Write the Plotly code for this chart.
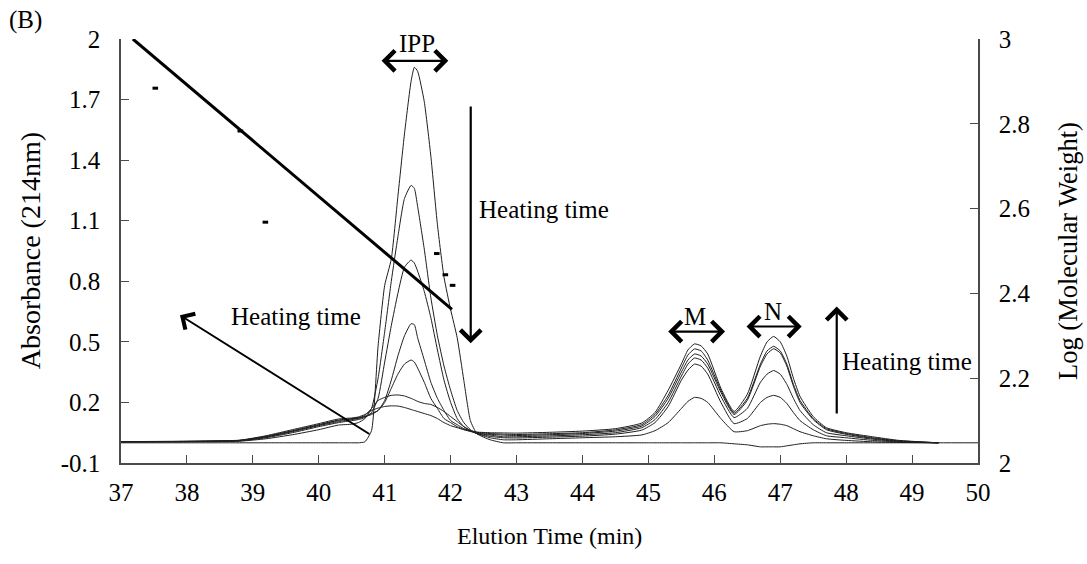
import plotly.graph_objects as go

# ---------------- data ----------------
elution_time = [37.0, 38.0, 38.8, 39.2, 39.6, 40.0, 40.3, 40.5, 40.6, 40.7,
                40.8, 40.9, 41.0, 41.1, 41.2, 41.3, 41.4, 41.45, 41.5, 41.6,
                41.7, 41.8, 41.9, 42.0, 42.1, 42.2, 42.3, 42.4, 42.6, 42.8,
                43.0, 43.5, 44.0, 44.5, 44.9, 45.1, 45.3, 45.5, 45.6, 45.7,
                45.8, 45.9, 46.1, 46.3, 46.5, 46.7, 46.8, 46.9, 47.0, 47.1,
                47.2, 47.3, 47.5, 47.7, 48.0, 48.4, 48.8, 49.4, 50.0]

abs_t0 = [0.0, 0.0, 0.0, 0.0, 0.0, 0.0, 0.0, 0.0, 0.0, 0.005,
          0.06, 0.48, 0.78, 0.91, 1.22, 1.53, 1.79, 1.86, 1.84, 1.69,
          1.42, 1.08, 0.82, 0.66, 0.52, 0.31, 0.11, 0.045, 0.015, 0.0,
          0.0, 0.0, 0.0, 0.0, 0.0, 0.0, 0.0, 0.0, 0.0, 0.0,
          0.0, 0.0, 0.0, -0.005, -0.01, -0.02, -0.02, -0.02, -0.02, -0.015,
          -0.01, -0.005, 0.0, 0.0, 0.0, 0.0, 0.0, 0.0, 0.0]

abs_t1 = [0.005, 0.005, 0.008, 0.02, 0.04, 0.065, 0.088, 0.092, 0.10, 0.12,
          0.17, 0.32, 0.55, 0.80, 1.02, 1.21, 1.275, 1.26, 1.17, 0.96,
          0.72, 0.53, 0.38, 0.26, 0.16, 0.10, 0.065, 0.045, 0.025, 0.015,
          0.015, 0.02, 0.025, 0.03, 0.039, 0.06, 0.10, 0.17, 0.205, 0.225,
          0.22, 0.20, 0.12, 0.055, 0.06, 0.085, 0.092, 0.095, 0.092, 0.085,
          0.07, 0.055, 0.035, 0.02, 0.012, 0.005, 0.002, 0.0, None]

abs_t2 = [0.005, 0.006, 0.01, 0.025, 0.05, 0.08, 0.10, 0.11, 0.115, 0.125,
          0.15, 0.22, 0.40, 0.58, 0.74, 0.87, 0.905, 0.89, 0.85, 0.75,
          0.62, 0.46, 0.31, 0.20, 0.12, 0.08, 0.06, 0.045, 0.032, 0.025,
          0.024, 0.028, 0.033, 0.043, 0.063, 0.10, 0.18, 0.31, 0.36, 0.39,
          0.38, 0.34, 0.20, 0.095, 0.12, 0.20, 0.225, 0.235, 0.225, 0.195,
          0.15, 0.11, 0.065, 0.035, 0.025, 0.012, 0.004, 0.0, None]

abs_t3 = [0.005, 0.006, 0.01, 0.028, 0.055, 0.085, 0.105, 0.115, 0.12, 0.13,
          0.145, 0.16, 0.21, 0.31, 0.43, 0.53, 0.59, 0.585, 0.52, 0.41,
          0.30, 0.22, 0.16, 0.11, 0.09, 0.07, 0.06, 0.047, 0.038, 0.03,
          0.03, 0.034, 0.04, 0.05, 0.075, 0.115, 0.20, 0.33, 0.39, 0.42,
          0.41, 0.37, 0.23, 0.125, 0.17, 0.30, 0.34, 0.358, 0.34, 0.29,
          0.22, 0.16, 0.09, 0.05, 0.035, 0.018, 0.006, 0.0, None]

abs_t4 = [0.005, 0.007, 0.012, 0.03, 0.058, 0.088, 0.11, 0.118, 0.122, 0.13,
          0.14, 0.16, 0.20, 0.27, 0.34, 0.39, 0.41, 0.40, 0.37, 0.30,
          0.22, 0.17, 0.12, 0.10, 0.08, 0.066, 0.056, 0.048, 0.042, 0.038,
          0.036, 0.04, 0.046, 0.058, 0.083, 0.13, 0.22, 0.35, 0.41, 0.44,
          0.43, 0.39, 0.25, 0.14, 0.21, 0.38, 0.44, 0.466, 0.445, 0.38,
          0.28, 0.20, 0.115, 0.065, 0.042, 0.022, 0.008, 0.0, None]

abs_t5 = [0.006, 0.007, 0.012, 0.032, 0.06, 0.09, 0.113, 0.12, 0.125, 0.135,
          0.17, 0.21, 0.225, 0.235, 0.237, 0.232, 0.22, 0.213, 0.205, 0.195,
          0.19, 0.175, 0.155, 0.13, 0.105, 0.08, 0.062, 0.052, 0.046, 0.043,
          0.041, 0.045, 0.05, 0.064, 0.09, 0.14, 0.235, 0.37, 0.435, 0.465,
          0.455, 0.41, 0.26, 0.147, 0.22, 0.39, 0.455, 0.478, 0.455, 0.39,
          0.29, 0.21, 0.12, 0.07, 0.046, 0.025, 0.01, 0.0, None]

abs_t6 = [0.006, 0.008, 0.013, 0.035, 0.065, 0.095, 0.118, 0.123, 0.128, 0.14,
          0.16, 0.172, 0.18, 0.183, 0.182, 0.175, 0.165, 0.16, 0.155, 0.145,
          0.135, 0.12, 0.10, 0.085, 0.075, 0.065, 0.058, 0.053, 0.05, 0.049,
          0.048, 0.052, 0.058, 0.07, 0.098, 0.15, 0.26, 0.39, 0.46, 0.49,
          0.48, 0.44, 0.27, 0.155, 0.24, 0.43, 0.50, 0.527, 0.50, 0.43,
          0.32, 0.23, 0.13, 0.075, 0.05, 0.03, 0.012, 0.0, None]

chromatograms = [abs_t0, abs_t1, abs_t2, abs_t3, abs_t4, abs_t5, abs_t6]
for c in chromatograms:
    assert len(c) == len(elution_time), len(c)

# molecular weight standards (right axis) and fitted calibration line
std_time = [37.52, 38.81, 39.19, 41.79, 41.92, 42.03]
std_logmw = [2.884, 2.783, 2.568, 2.494, 2.444, 2.419]
fit_time = [37.18, 42.02]
fit_logmw = [3.0, 2.3625]

left_ticks = [-0.1, 0.2, 0.5, 0.8, 1.1, 1.4, 1.7, 2.0]
left_labels = ["-0.1", "0.2", "0.5", "0.8", "1.1", "1.4", "1.7", "2"]
right_ticks = [2.0, 2.2, 2.4, 2.6, 2.8, 3.0]
right_labels = ["2", "2.2", "2.4", "2.6", "2.8", "3"]
x_ticks = list(range(37, 51))

# ---------------- figure ----------------
SERIF = "Liberation Serif, Times New Roman, serif"
FS = 25
fig = go.Figure()

for c in chromatograms:
    fig.add_trace(go.Scatter(
        x=elution_time, y=c, mode="lines", yaxis="y",
        line=dict(color="#1e1e1e", width=1, shape="spline", smoothing=0.5),
        showlegend=False, hoverinfo="skip"))

fig.add_trace(go.Scatter(
    x=fit_time, y=fit_logmw, mode="lines", yaxis="y2",
    line=dict(color="black", width=3), showlegend=False))
fig.add_trace(go.Scatter(
    x=std_time, y=std_logmw, mode="markers", yaxis="y2",
    marker=dict(symbol="line-ew", size=4, color="black",
                line=dict(width=3, color="black")),
    showlegend=False))

axis_common = dict(showgrid=False, zeroline=False, showline=True,
                   linecolor="#4a4a4a", linewidth=1.5, ticks="inside",
                   ticklen=8, tickcolor="#4a4a4a", tickwidth=1,
                   tickfont=dict(family=SERIF, size=FS, color="black"))

fig.update_layout(
    width=1087, height=564,
    margin=dict(l=121, r=109, t=39, b=101),
    paper_bgcolor="white", plot_bgcolor="white",
    xaxis=dict(range=[37, 50], tickvals=x_ticks, ticklabelstandoff=6,
               **axis_common),
    yaxis=dict(range=[-0.1, 2.0], tickvals=left_ticks, ticktext=left_labels,
               ticklabelstandoff=14, **axis_common),
    yaxis2=dict(range=[2.0, 3.0], tickvals=right_ticks, ticktext=right_labels,
                overlaying="y", side="right", ticklabelstandoff=14,
                **axis_common),
)

def txt(x, y, s, size=FS, xanchor="center", **kw):
    fig.add_annotation(x=x, y=y, text=s, showarrow=False, xanchor=xanchor,
                       yanchor="middle", font=dict(family=SERIF, size=size,
                                                   color="black"), **kw)

# axis titles / panel label
txt(0.5, -0.172, "Elution Time (min)", size=24, xref="paper", yref="paper")
txt(-0.106, 0.5, "Absorbance (214nm)", size=28, xref="paper", yref="paper",
    textangle=-90)
txt(1.105, 0.5, "Log (Molecular Weight)", size=26.5, xref="paper",
    yref="paper", textangle=-90)
txt(-0.112, 1.045, "(B)", size=FS, xref="paper", yref="paper")

# peak labels
txt(41.486, 1.98, "IPP", xref="x", yref="y")
txt(45.707, 0.624, "M", xref="x", yref="y")
txt(46.89, 0.65, "N", xref="x", yref="y")
txt(42.396, 1.154, "Heating time", xanchor="left", xref="x", yref="y")
txt(40.671, 0.624, "Heating time", xanchor="right", xref="x", yref="y")
txt(48.93, 0.402, "Heating time", xref="x", yref="y")

def arrow(x0, y0, x1, y1, side="end", width=2.2, size=1.8):
    fig.add_annotation(x=x1, y=y1, ax=x0, ay=y0, xref="x", yref="y",
                       axref="x", ayref="y", text="", showarrow=True,
                       arrowhead=4, arrowsize=size, arrowwidth=width,
                       arrowcolor="black", arrowside=side, startarrowhead=4,
                       startarrowsize=size)

arrow(40.93, 1.892, 41.965, 1.892, side="end+start")
arrow(45.278, 0.551, 46.163, 0.551, side="end+start")
arrow(46.466, 0.576, 47.326, 0.576, side="end+start")
arrow(42.305, 1.673, 42.305, 0.493)
arrow(47.857, 0.138, 47.857, 0.675)
arrow(40.79, 0.039, 37.895, 0.632, width=2)

fig.write_html("out.html", config={"displayModeBar": False},
               post_script="document.body.style.margin='0px';")
